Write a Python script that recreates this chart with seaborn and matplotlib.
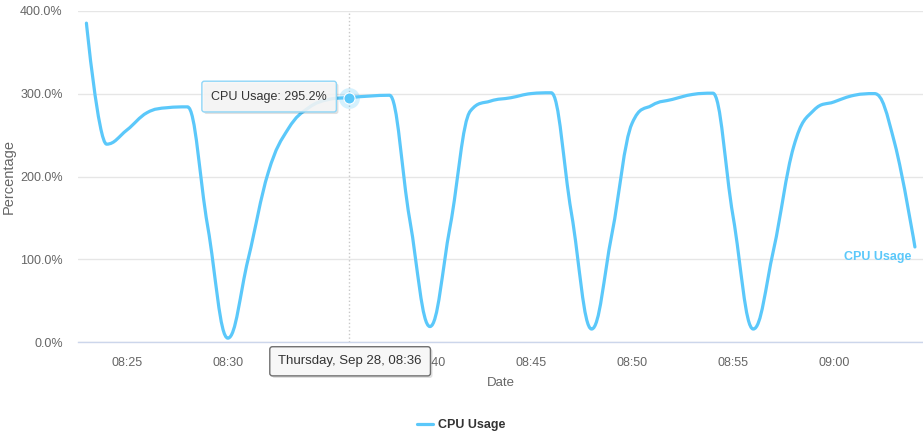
import pandas as pd
import seaborn as sns
import matplotlib.pyplot as plt
import matplotlib.dates as mdates
import matplotlib.patheffects as pe
from matplotlib.lines import Line2D
from matplotlib.path import Path
from matplotlib.patches import PathPatch
from matplotlib.ticker import FuncFormatter

# ── data: one reading per minute, Thursday Sep 28 ─────────────────────────
times = pd.date_range("2017-09-28 08:23", "2017-09-28 09:04", freq="1min")
cpu_usage = [
    385, 239, 256, 277, 283, 284, 140, 5, 100, 205,
    258, 283, 293, 295.2, 297, 298, 148, 19, 140, 279,
    291, 295, 300, 301, 156, 16, 130, 264, 286, 293,
    299, 300.5, 152, 16, 111, 236, 280, 290, 298, 300,
    240, 115,
]
series_name = "CPU Usage"
hover_index = 13          # 08:36, the point under the tooltip

df = pd.DataFrame({"time": times, "cpu": cpu_usage})


def spline_path(xy, smoothing=1.5, denom=2.5):
    """Highcharts-style spline through the given points (cubic bezier segments)."""
    n = len(xy)
    verts, codes = [tuple(xy[0])], [Path.MOVETO]
    right_prev = tuple(xy[0])
    for i in range(1, n):
        x, y = xy[i]
        lx, ly = xy[i - 1]
        if i < n - 1:
            nx, ny = xy[i + 1]
            lcx, lcy = (smoothing * x + lx) / denom, (smoothing * y + ly) / denom
            rcx, rcy = (smoothing * x + nx) / denom, (smoothing * y + ny) / denom
            if rcx != lcx:
                corr = (rcy - lcy) * (rcx - x) / (rcx - lcx) + y - rcy
                lcy += corr
                rcy += corr
            if lcy > max(ly, y):
                lcy = max(ly, y); rcy = 2 * y - lcy
            elif lcy < min(ly, y):
                lcy = min(ly, y); rcy = 2 * y - lcy
            if rcy > max(ny, y):
                rcy = max(ny, y); lcy = 2 * y - rcy
            elif rcy < min(ny, y):
                rcy = min(ny, y); lcy = 2 * y - rcy
            left = (lcx, lcy)
            right = (rcx, rcy)
        else:
            left = right = (x, y)
        verts += [right_prev, left, (x, y)]
        codes += [Path.CURVE4] * 3
        right_prev = right
    return Path(verts, codes)


# ── style ────────────────────────────────────────────────────────────────
sns.set_style("white")
plt.rcParams["font.family"] = ["Liberation Sans", "DejaVu Sans"]

line_color = "#5bc8fa"
grid_color = "#e6e6e6"
axis_color = "#ccd6eb"
label_color = "#666666"
tip_bg = (0.969, 0.969, 0.969, 0.88)
shadow = [pe.withSimplePatchShadow(offset=(1.5, -1.5), shadow_rgbFace="black", alpha=0.12)]

fig = plt.figure(figsize=(9.23, 4.38), dpi=100)
ax = fig.add_axes([78 / 923, 1 - 342.3 / 438, 845 / 923, 331.6 / 438])

# hover crosshair goes underneath the series
t_hover = times[hover_index]
v_hover = cpu_usage[hover_index]
ax.axvline(t_hover, color="#c8c8c8", ls=":", lw=1, zorder=1)

sns.lineplot(data=df, x="time", y="cpu", color=line_color, lw=2.3,
             ax=ax, zorder=3, legend=False)
# redraw the seaborn line as a smooth spline through the same points
series_line = ax.lines[-1]
ax.add_patch(PathPatch(spline_path(series_line.get_xydata()), fc="none",
                       ec=line_color, lw=2.3, capstyle="round",
                       joinstyle="round", zorder=3))
series_line.set_visible(False)

# ── axes ────────────────────────────────────────────────────────────────
ax.set_ylim(0, 400)
ax.set_yticks([0, 100, 200, 300, 400])
ax.yaxis.set_major_formatter(FuncFormatter(lambda v, p: f"{v:.1f}%"))
ax.set_xlim(pd.Timestamp("2017-09-28 08:22:35"), pd.Timestamp("2017-09-28 09:04:24"))
ax.xaxis.set_major_locator(mdates.MinuteLocator(byminute=range(0, 60, 5)))
ax.xaxis.set_major_formatter(mdates.DateFormatter("%H:%M"))

ax.grid(axis="y", color=grid_color, lw=1)
ax.grid(axis="x", visible=False)
for side in ["left", "right", "top"]:
    ax.spines[side].set_visible(False)
ax.spines["bottom"].set_color(axis_color)
ax.spines["bottom"].set_linewidth(1)

ax.tick_params(axis="y", length=0, pad=11, labelsize=9, labelcolor=label_color)
ax.tick_params(axis="x", length=7.2, width=1, color=axis_color, pad=3.5,
               labelsize=9, labelcolor=label_color, direction="out")

ax.set_ylabel("Percentage", fontsize=10.5, color=label_color)
ax.yaxis.set_label_coords(-0.074, 0.5)
ax.set_xlabel("Date", fontsize=9.5, color=label_color)
ax.xaxis.set_label_coords(0.5, -0.105)

# ── hover marker + tooltips ────────────────────────────────────────────
ax.plot([t_hover], [v_hover], "o", ms=15, color=line_color, alpha=0.25, mew=0, zorder=4)
ax.plot([t_hover], [v_hover], "o", ms=8, color=line_color, mec="white", mew=0.8, zorder=5)

tip_top = ax.annotate(f"{series_name}: {v_hover:.1f}%", xy=(t_hover, v_hover),
                      xytext=(-80, 1), textcoords="offset pixels",
                      ha="center", va="center", fontsize=9, color="#333333", zorder=6,
                      bbox=dict(boxstyle="round,pad=0.75,rounding_size=0.2", fc=tip_bg,
                                ec="#8fd6f7", lw=1))
tip_top.get_bbox_patch().set_path_effects(shadow)

tip_bottom = ax.annotate(t_hover.strftime("%A, %b %d, %H:%M"), xy=(t_hover, 0),
                         xytext=(1, -19), textcoords="offset pixels",
                         ha="center", va="center", fontsize=9.5, color="#333333",
                         zorder=6, annotation_clip=False,
                         bbox=dict(boxstyle="round,pad=0.65,rounding_size=0.2",
                                   fc=(0.969, 0.969, 0.969, 1), ec="#707070", lw=1))
tip_bottom.get_bbox_patch().set_path_effects(shadow)

# series label at the end of the line
ax.annotate(series_name, xy=(times[-1], cpu_usage[-1]), xytext=(-4, -10),
            textcoords="offset pixels", ha="right", va="center",
            fontsize=9, fontweight="bold", color=line_color, zorder=6)

# ── legend ────────────────────────────────────────────────────────────
handle = Line2D([], [], color=line_color, lw=2.3)
leg = fig.legend([handle], [series_name], loc="center",
                 bbox_to_anchor=(461 / 923, 1 - 425 / 438), frameon=False,
                 handlelength=1.3, handletextpad=0.4,
                 prop=dict(weight="bold", size=9))
for t in leg.get_texts():
    t.set_color("#333333")

fig.savefig("out.png", dpi=100)
